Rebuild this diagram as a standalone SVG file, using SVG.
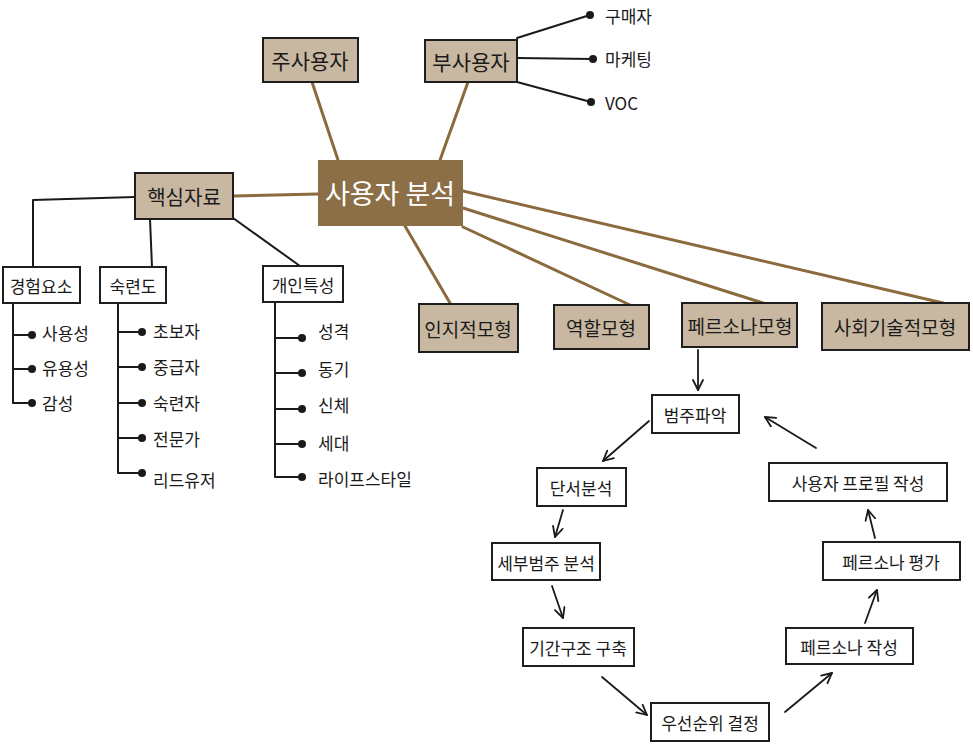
<svg xmlns="http://www.w3.org/2000/svg" width="973" height="744" viewBox="0 0 973 744">
<defs>
<style>
text{font-family:"Noto Sans CJK KR","Noto Sans",sans-serif;fill:#1a1a1a;}
.box{stroke:#1e1e1e;stroke-width:2;}
.tan{fill:#c9b8a1;}
.white{fill:#ffffff;}
.main{fill:#8c6f47;stroke:none;}
.br{stroke:#8b6a3e;stroke-width:3;fill:none;stroke-linecap:round;}
.bk{stroke:#1a1a1a;stroke-width:2;fill:none;stroke-linecap:round;stroke-linejoin:round;}
.ar{stroke:#1a1a1a;stroke-width:1.8;fill:none;stroke-linecap:round;marker-end:url(#ah);}
.c{text-anchor:middle;dominant-baseline:central;}
.l{dominant-baseline:central;font-size:17px;}
.dot{fill:#1a1a1a;}
</style>
<marker id="ah" viewBox="0 0 12 12" refX="11" refY="6" markerWidth="12" markerHeight="12" markerUnits="userSpaceOnUse" orient="auto">
<path d="M1,1 L11,6 L1,11" fill="none" stroke="#1a1a1a" stroke-width="1.8" stroke-linecap="round" stroke-linejoin="round"/>
</marker>
</defs>
<g id="connectors">
<line class="br" x1="312" y1="82" x2="338" y2="160"/>
<line class="br" x1="468" y1="82" x2="440" y2="160"/>
<line class="br" x1="233" y1="196" x2="318" y2="194"/>
<line class="br" x1="405" y1="226" x2="450" y2="303"/>
<line class="br" x1="463" y1="227" x2="630" y2="305"/>
<line class="br" x1="463" y1="208" x2="763" y2="303"/>
<line class="br" x1="463" y1="191" x2="943" y2="303"/>
<polyline class="bk" points="517,38 590,15"/>
<polyline class="bk" points="517,58 593,59"/>
<polyline class="bk" points="517,82 591,102"/>
<polyline class="bk" points="135,197 33,200 33,267"/>
<polyline class="bk" points="150,219 152,267"/>
<polyline class="bk" points="233,218 300,266"/>
<polyline class="bk" points="13,303 13,403 32,403"/>
<line class="bk" x1="13" y1="335" x2="32" y2="335"/>
<line class="bk" x1="13" y1="369" x2="32" y2="369"/>
<polyline class="bk" points="118,303 118,473 142,473"/>
<line class="bk" x1="118" y1="332" x2="142" y2="332"/>
<line class="bk" x1="118" y1="367" x2="142" y2="367"/>
<line class="bk" x1="118" y1="403" x2="142" y2="403"/>
<line class="bk" x1="118" y1="438" x2="142" y2="438"/>
<polyline class="bk" points="275,302 275,477 302,477"/>
<line class="bk" x1="275" y1="338" x2="302" y2="338"/>
<line class="bk" x1="275" y1="373" x2="302" y2="373"/>
<line class="bk" x1="275" y1="409" x2="302" y2="409"/>
<line class="bk" x1="275" y1="444" x2="302" y2="444"/>
<g class="dot">
<circle cx="590" cy="15" r="4"/><circle cx="593" cy="59" r="4"/><circle cx="591" cy="102" r="4"/>
<circle cx="32" cy="335" r="4"/><circle cx="32" cy="369" r="4"/><circle cx="32" cy="403" r="4"/>
<circle cx="142" cy="332" r="4"/><circle cx="142" cy="367" r="4"/><circle cx="142" cy="403" r="4"/><circle cx="142" cy="438" r="4"/><circle cx="142" cy="473" r="4"/>
<circle cx="302" cy="338" r="4"/><circle cx="302" cy="373" r="4"/><circle cx="302" cy="409" r="4"/><circle cx="302" cy="444" r="4"/><circle cx="302" cy="477" r="4"/>
</g>
<line class="ar" x1="698" y1="350" x2="698" y2="390"/>
<line class="ar" x1="649" y1="421" x2="603" y2="461"/>
<line class="ar" x1="563" y1="510" x2="555" y2="537"/>
<line class="ar" x1="552" y1="586" x2="563" y2="618"/>
<line class="ar" x1="602" y1="677" x2="647" y2="715"/>
<line class="ar" x1="785" y1="712" x2="832" y2="673"/>
<line class="ar" x1="865" y1="623" x2="877" y2="590"/>
<line class="ar" x1="875" y1="538" x2="868" y2="510"/>
<line class="ar" x1="816" y1="448" x2="765" y2="417"/>
</g>
<g id="n-main"><rect class="main" x="318" y="160" width="145" height="66"/><text class="c" x="390" y="192" style="fill:#fff;font-size:27px">사용자 분석</text></g>
<g id="n-primary"><rect class="box tan" x="263" y="38" width="95" height="44"/><text class="c" x="310" y="60" font-size="21">주사용자</text></g>
<g id="n-secondary"><rect class="box tan" x="425" y="40" width="92" height="42"/><text class="c" x="471" y="61" font-size="21">부사용자</text></g>
<g id="n-buyer"><text class="l" x="605" y="15">구매자</text></g>
<g id="n-marketing"><text class="l" x="605" y="58">마케팅</text></g>
<g id="n-voc"><text class="l" x="605" y="102">VOC</text></g>
<g id="n-core"><rect class="box tan" x="135" y="173" width="98" height="46"/><text class="c" x="184" y="196" font-size="20">핵심자료</text></g>
<g id="n-exp"><rect class="box white" x="3" y="267" width="77" height="36"/><text class="c" x="41" y="285" font-size="17">경험요소</text></g>
<g id="n-skill"><rect class="box white" x="100" y="267" width="66" height="36"/><text class="c" x="133" y="285" font-size="17">숙련도</text></g>
<g id="n-personal"><rect class="box white" x="263" y="266" width="80" height="36"/><text class="c" x="303" y="284" font-size="17">개인특성</text></g>
<g id="leaves-exp"><text class="l" x="42" y="332">사용성</text><text class="l" x="42" y="367">유용성</text><text class="l" x="42" y="402">감성</text></g>
<g id="leaves-skill"><text class="l" x="153" y="330">초보자</text><text class="l" x="153" y="366">중급자</text><text class="l" x="153" y="402">숙련자</text><text class="l" x="153" y="438">전문가</text><text class="l" x="153" y="479">리드유저</text></g>
<g id="leaves-personal"><text class="l" x="318" y="330">성격</text><text class="l" x="318" y="368">동기</text><text class="l" x="318" y="404">신체</text><text class="l" x="318" y="442">세대</text><text class="l" x="318" y="478">라이프스타일</text></g>
<g id="n-cognitive"><rect class="box tan" x="419" y="304" width="99" height="48"/><text class="c" x="468" y="328" font-size="19">인지적모형</text></g>
<g id="n-role"><rect class="box tan" x="554" y="305" width="95" height="44"/><text class="c" x="601" y="327" font-size="19">역할모형</text></g>
<g id="n-persona"><rect class="box tan" x="682" y="303" width="115" height="44"/><text class="c" x="740" y="325" font-size="19">페르소나모형</text></g>
<g id="n-sociotech"><rect class="box tan" x="822" y="303" width="147" height="47"/><text class="c" x="895" y="326" font-size="19">사회기술적모형</text></g>
<g id="n-c1"><rect class="box white" x="652" y="395" width="87" height="38"/><text class="c" x="695" y="414" font-size="17">범주파악</text></g>
<g id="n-c2"><rect class="box white" x="537" y="468" width="89" height="38"/><text class="c" x="581" y="487" font-size="17">단서분석</text></g>
<g id="n-c3"><rect class="box white" x="492" y="543" width="108" height="37"/><text class="c" x="546" y="562" font-size="17">세부범주 분석</text></g>
<g id="n-c4"><rect class="box white" x="523" y="628" width="111" height="38"/><text class="c" x="578" y="647" font-size="17">기간구조 구축</text></g>
<g id="n-c5"><rect class="box white" x="651" y="703" width="118" height="38"/><text class="c" x="710" y="722" font-size="17">우선순위 결정</text></g>
<g id="n-c6"><rect class="box white" x="786" y="628" width="127" height="36"/><text class="c" x="849" y="646" font-size="17">페르소나 작성</text></g>
<g id="n-c7"><rect class="box white" x="823" y="542" width="137" height="38"/><text class="c" x="891" y="561" font-size="17">페르소나 평가</text></g>
<g id="n-c8"><rect class="box white" x="769" y="463" width="178" height="38"/><text class="c" x="858" y="482" font-size="17">사용자 프로필 작성</text></g>
</svg>
